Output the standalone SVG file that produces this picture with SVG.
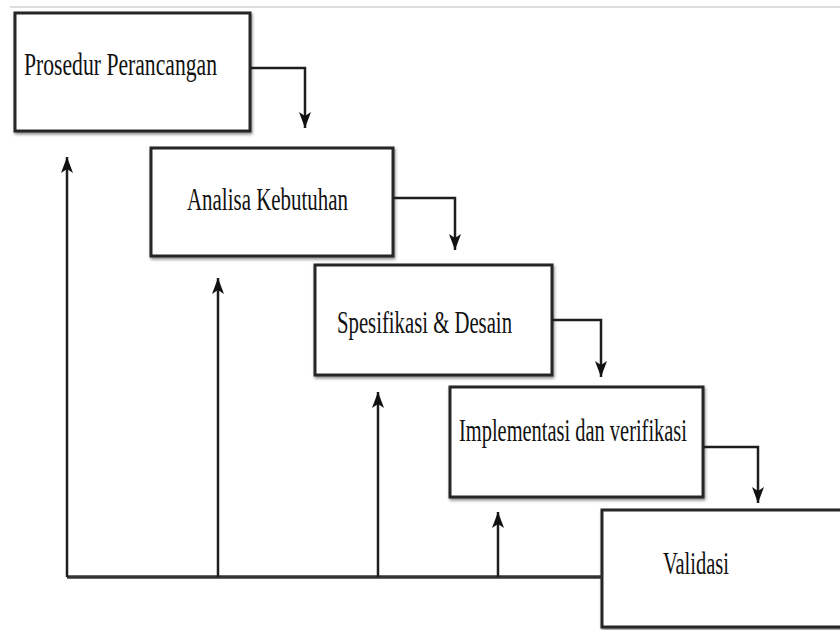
<svg xmlns="http://www.w3.org/2000/svg" width="840" height="630" viewBox="0 0 840 630">
<style>
.box{fill:#fff;stroke:#262626;stroke-width:3;filter:url(#sh)}
.lbl{font-family:"Liberation Serif","Times New Roman",serif;font-size:31px;fill:#111}
.con{fill:none;stroke:#1e1e1e;stroke-width:2.5}
.base{fill:none;stroke:#333;stroke-width:3.5}
</style>
<defs>
<filter id="sh" x="-5%" y="-5%" width="115%" height="120%">
<feGaussianBlur in="SourceAlpha" stdDeviation="1.5"/>
<feOffset dx="1" dy="2" result="b"/>
<feComponentTransfer><feFuncA type="linear" slope="0.45"/></feComponentTransfer>
<feMerge><feMergeNode/><feMergeNode in="SourceGraphic"/></feMerge>
</filter>
<marker id="ah" markerUnits="userSpaceOnUse" markerWidth="18" markerHeight="14" refX="16" refY="6" orient="auto">
<path d="M0,0 L16,6 L0,12 L4,6 z" fill="#111"/>
</marker>
</defs>
<line x1="10" y1="7" x2="840" y2="7" stroke="#dcdcdc" stroke-width="2"/>
<g id="n1"><rect class="box" x="15" y="13" width="235" height="118"/><text class="lbl" x="24" y="75" textLength="193" lengthAdjust="spacingAndGlyphs">Prosedur Perancangan</text></g>
<g id="n2"><rect class="box" x="151" y="148" width="242" height="108"/><text class="lbl" x="187" y="210" textLength="161" lengthAdjust="spacingAndGlyphs">Analisa Kebutuhan</text></g>
<g id="n3"><rect class="box" x="315" y="265" width="237" height="110"/><text class="lbl" x="337" y="333" textLength="175" lengthAdjust="spacingAndGlyphs">Spesifikasi &amp; Desain</text></g>
<g id="n4"><rect class="box" x="450" y="387" width="253" height="110"/><text class="lbl" x="459" y="441" textLength="228" lengthAdjust="spacingAndGlyphs">Implementasi dan verifikasi</text></g>
<g id="n5"><rect class="box" x="602" y="510" width="260" height="117"/><text class="lbl" x="663" y="574" textLength="66" lengthAdjust="spacingAndGlyphs">Validasi</text></g>
<g id="connectors">
<path class="con" d="M250,68 H305 V128" marker-end="url(#ah)"/>
<path class="con" d="M393,198 H455 V250" marker-end="url(#ah)"/>
<path class="con" d="M552,320 H601 V377" marker-end="url(#ah)"/>
<path class="con" d="M703,447 H758 V503" marker-end="url(#ah)"/>
<path class="base" d="M602,577 H67"/>
<path class="con" d="M67,577 V157" marker-end="url(#ah)"/>
<path class="con" d="M218,577 V278" marker-end="url(#ah)"/>
<path class="con" d="M378,577 V392" marker-end="url(#ah)"/>
<path class="con" d="M498,577 V512" marker-end="url(#ah)"/>
</g>
</svg>
